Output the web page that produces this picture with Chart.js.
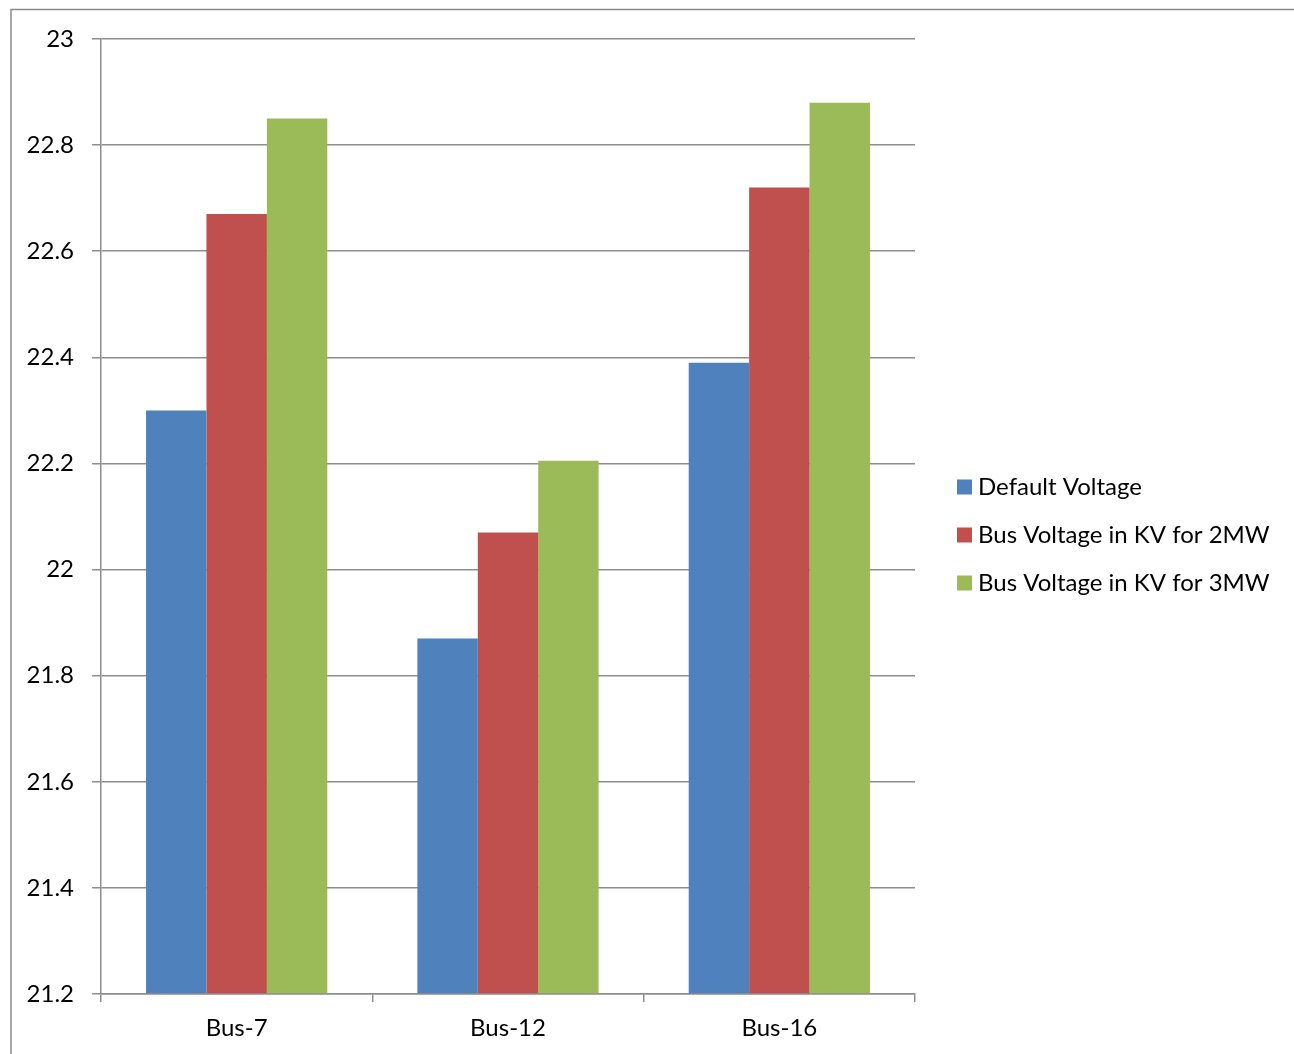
<!DOCTYPE html>
<html>
<head>
<meta charset="utf-8">
<title>Bus Voltage</title>
<script src="https://cdn.jsdelivr.net/npm/chart.js@4/dist/chart.umd.min.js"></script>
<style>
  html, body { margin: 0; padding: 0; background: #ffffff; }
  #wrap { position: relative; width: 1294px; height: 1054px; }
</style>
</head>
<body>
<div id="wrap"><canvas id="chart" width="1294" height="1054"></canvas></div>
<script>
// Bus names along the x axis
const categories = ['Bus-7', 'Bus-12', 'Bus-16'];

// Voltages (kV) per bus
const defaultVoltage = [22.30, 21.87, 22.39];
const voltage2MW = [22.67, 22.07, 22.72];
const voltage3MW = [22.85, 22.205, 22.88];

const seriesNames = ['Default Voltage', 'Bus Voltage in KV for 2MW', 'Bus Voltage in KV for 3MW'];

// Value axis range
const yMin = 21.2;
const yMax = 23;
const yStep = 0.2;

const FONT = 'Lato, "Open Sans", "Noto Sans", sans-serif';
const GRID = '#8e8e8e';

// Outer frame of the chart
const framePlugin = {
  id: 'frame',
  beforeDraw(chart) {
    const ctx = chart.ctx;
    ctx.save();
    ctx.strokeStyle = '#8a8a8a';
    ctx.lineWidth = 1.5;
    ctx.strokeRect(11, 9.5, chart.width + 20, chart.height + 20);
    ctx.restore();
  }
};

// Places the legend block beside the plot
const legendPlacement = {
  id: 'legendPlacement',
  afterLayout(chart) {
    const lg = chart.legend;
    if (!lg) return;
    lg.left = 939;
    lg.right = chart.width;
    lg.top = 8;
    lg.bottom = 1062;
  }
};

new Chart(document.getElementById('chart'), {
  type: 'bar',
  data: {
    labels: categories,
    datasets: [
      { label: seriesNames[0], data: defaultVoltage, backgroundColor: '#4f81bd' },
      { label: seriesNames[1], data: voltage2MW, backgroundColor: '#c0504d' },
      { label: seriesNames[2], data: voltage3MW, backgroundColor: '#9bbb59' }
    ]
  },
  options: {
    responsive: false,
    animation: false,
    devicePixelRatio: 1,
    datasets: {
      bar: {
        categoryPercentage: 0.668,
        barPercentage: 1.0,
        borderWidth: 0,
        base: yMin
      }
    },
    layout: {
      padding: { top: 39, left: 0, right: 74, bottom: 0 }
    },
    plugins: {
      legend: {
        position: 'right',
        align: 'center',
        labels: {
          usePointStyle: true,
          pointStyle: 'rect',
          boxWidth: 3,
          boxHeight: 15,
          padding: 24,
          color: '#000000',
          font: { family: FONT, size: 24 }
        }
      },
      tooltip: { enabled: false }
    },
    scales: {
      x: {
        grid: {
          display: true,
          drawOnChartArea: false,
          drawTicks: true,
          tickLength: 8,
          color: GRID,
          lineWidth: 1.5,
          offset: true
        },
        border: { display: true, color: GRID, width: 1.5 },
        ticks: {
          color: '#000000',
          padding: 12,
          font: { family: FONT, size: 24 },
          maxRotation: 0
        },
        afterFit(scale) { scale.height = 60; }
      },
      y: {
        min: yMin,
        max: yMax,
        grid: {
          color: GRID,
          lineWidth: 1.5,
          drawTicks: true,
          tickLength: 9
        },
        border: { display: true, color: GRID, width: 1.5 },
        ticks: {
          stepSize: yStep,
          color: '#000000',
          padding: 18,
          font: { family: FONT, size: 24 },
          callback: (v) => String(Number(Number(v).toFixed(1)))
        },
        afterFit(scale) { scale.width = 101; }
      }
    }
  },
  plugins: [framePlugin, legendPlacement]
});
</script>
</body>
</html>
